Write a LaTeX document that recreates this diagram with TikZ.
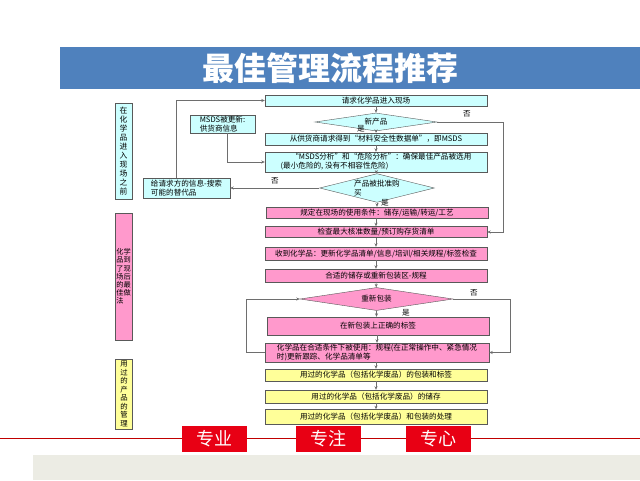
\documentclass[tikz,border=0pt]{standalone}
\usepackage{fontspec}
\setmainfont{Noto Sans CJK SC}
\usetikzlibrary{positioning,arrows.meta,shapes.geometric}
\definecolor{titleblue}{RGB}{79,129,189}
\definecolor{boxcyan}{RGB}{204,255,255}
\definecolor{boxpink}{RGB}{255,153,204}
\definecolor{boxyellow}{RGB}{255,255,153}
\definecolor{linegray}{RGB}{110,110,110}
\definecolor{tagred}{RGB}{232,0,20}
\definecolor{rulered}{RGB}{192,0,0}
\definecolor{panelgray}{RGB}{236,236,228}

\begin{document}
\begin{tikzpicture}[x=1pt,y=-1pt,
  flowbox/.style={rectangle,draw=gray!70!black,font=\fontsize{7.6}{9}\selectfont,
        minimum width=222pt,inner sep=1pt},
  cyanbox/.style={flowbox,fill=boxcyan},
  pinkbox/.style={flowbox,fill=boxpink},
  yellowbox/.style={flowbox,fill=boxyellow},
  decide/.style={shape=diamond,draw=gray!70!black,aspect=4,inner sep=0.5pt,
        font=\fontsize{7.6}{9}\selectfont},
  stage/.style={rectangle,draw=gray!70!black,minimum width=17pt,inner sep=0pt,
        align=center,font=\fontsize{7.8}{9}\selectfont},
  lbl/.style={font=\fontsize{7.6}{9}\selectfont,inner sep=0pt},
  tag/.style={rectangle,fill=tagred,text=white,minimum width=65pt,minimum height=26pt,
        font=\fontsize{18}{20}\selectfont},
  arrow/.style={-{Stealth[length=3.5pt,width=3pt]},draw=linegray,line width=0.6pt}
]
\fill[white] (0,0) rectangle (640,480);
\useasboundingbox (0,0) rectangle (640,480);
% title bar
\node[fill=titleblue,minimum width=580pt,minimum height=42pt,inner sep=0pt] (bar) at (350,68) {};
\node[text=white,font=\fontsize{32}{34}\selectfont\bfseries] (ttl) at (330,68) {最佳管理流程推荐};
% stages on the left
\node[stage,fill=boxcyan,minimum height=96pt] (before) at (123.5,151) {在\\化\\学\\品\\进\\入\\现\\场\\之\\前};
\node[stage,fill=boxpink,minimum height=127pt,align=left,font=\fontsize{7.2}{8.2}\selectfont] (onsite) at (123.5,276.5) {化学\\品到\\了现\\场后\\的最\\佳做\\法};
\node[stage,fill=boxyellow,minimum height=70pt,font=\fontsize{7.4}{8.5}\selectfont] (used) at (124,394) {用\\过\\的\\产\\品\\的\\管\\理};
% main flow
\node[cyanbox,minimum height=11pt] (req) at (376,100.5) {请求化学品进入现场};
\node[decide,fill=boxcyan,minimum width=122pt,minimum height=18pt] (newp) at (376,122) {新产品};
\node[cyanbox,minimum height=12pt] (msds) at (376,139) {从供货商请求得到“材料安全性数据单”，即MSDS};
\node[cyanbox,minimum height=20pt,align=left] (ana) at (376,162) {\hspace{1.4em}“MSDS分析”和“危险分析”：确保最佳产品被选用\\(最小危险的, 没有不相容性危险)};
\node[decide,fill=boxcyan,minimum width=110pt,minimum height=25pt,align=left] (appr) at (377,188) {产品被批准购\\买};
\node[pinkbox,minimum height=11pt] (cond) at (377,212.5) {规定在现场的使用条件：储存/运输/转运/工艺};
\node[pinkbox,minimum height=11pt] (chk) at (376,232) {检查最大核准数量/预订购存货清单};
\node[pinkbox,minimum height=13pt] (recv) at (376,253.5) {收到化学品：更新化学品清单/信息/培训/相关规程/标签检查};
\node[pinkbox,minimum height=13pt] (stor) at (376,275.5) {合适的储存或重新包装区-规程};
\node[decide,fill=boxpink,minimum width=153pt,minimum height=23pt] (repk) at (376.5,299) {重新包装};
\node[pinkbox,minimum height=18pt] (lab) at (378,326) {在新包装上正确的标签};
\node[pinkbox,minimum width=224pt,minimum height=19pt,align=left] (use) at (377,352.5) {化学品在合适条件下被使用：规程(在正常操作中、紧急情况\\时)更新跟踪、化学品清单等};
\node[yellowbox,minimum height=12pt] (pack) at (376,375) {用过的化学品（包括化学废品）的包装和标签};
\node[yellowbox,minimum height=13pt] (wstor) at (376,396.5) {用过的化学品（包括化学废品）的储存};
\node[yellowbox,minimum height=15pt] (disp) at (376,417) {用过的化学品（包括化学废品）和包装的处理};
% side boxes
\node[cyanbox,minimum width=65pt,minimum height=18pt,align=left] (upd) at (222.5,124) {MSDS被更新:\\供货商信息};
\node[cyanbox,minimum width=87pt,minimum height=20pt,align=left] (alt) at (186.5,188) {给请求方的信息-搜索\\可能的替代品};
% yes / no
\node[lbl] (y1) at (361,129) {是};
\node[lbl] (n1) at (467,114) {否};
\node[lbl] (n2) at (275,181) {否};
\node[lbl] (y2) at (385,203) {是};
\node[lbl] (n3) at (474,293) {否};
\node[lbl] (y3) at (406,313) {是};
% connectors
\draw[arrow] (req) -- (newp);
\draw[arrow] (newp) -- (msds);
\draw[arrow] (msds) -- (ana);
\draw[arrow] (ana) -- (appr);
\draw[arrow] (appr.south) -- (cond.north -| appr.south);
\draw[arrow] (cond.south -| chk.north) -- (chk);
\draw[arrow] (chk) -- (recv);
\draw[arrow] (recv) -- (stor);
\draw[arrow] (stor) -- (repk);
\draw[arrow] (repk.south) -- (lab.north -| repk.south);
\draw[arrow] (lab.south -| use.north) -- (use);
\draw[arrow] (use.south -| pack.north) -- (pack);
\draw[arrow] (pack) -- (wstor);
\draw[arrow] (wstor) -- (disp);
\draw[arrow] ([xshift=4.5pt]upd.south) |- (ana.west);
\draw[arrow] (appr.west) -- (alt.east);
\draw[arrow] ([xshift=-10pt]alt.north) |- (req.west);
\draw[arrow] (newp.east) -- ++(66,0) |- (chk.east);
\draw[arrow] (repk.east) -- ++(57,0) |- (use.east);
\draw[arrow] (use.west) -- ++(-19,0) |- (repk.west);
% footer
\draw[rulered,line width=1pt] (0,438) -- (640,438);
\node[tag] (t1) at (214.5,439) {专业};
\node[tag] (t2) at (328.5,439) {专注};
\node[tag] (t3) at (438.5,439) {专心};
\fill[panelgray] (33,455) rectangle (640,480);
\end{tikzpicture}
\end{document}
